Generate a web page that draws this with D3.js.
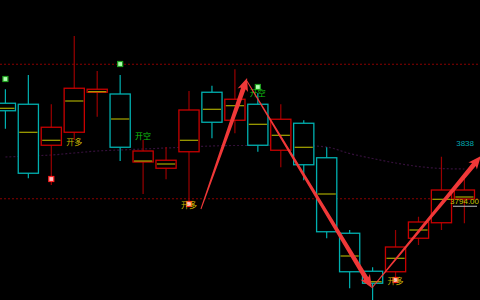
<!DOCTYPE html>
<html>
<head>
  <meta charset="utf-8">
  <title>K线</title>
  <script src="https://d3js.org/d3.v7.min.js"></script>
  <style>
    html, body { margin: 0; padding: 0; background: #000; }
    svg { display: block; }
  </style>
</head>
<body>
<script>
  // ohlc + yellow mid line, one entry per bar
  const opens  = [3870.4, 3869.6, 3836.8, 3847.2, 3879.2, 3877.8, 3823.4, 3818.4, 3831.6, 3879.2, 3856.8,
                  3869.6, 3832.8, 3854.4, 3826.8, 3766.4, 3736.0, 3735.6, 3762.4, 3774.8, 3793.8];
  const highs  = [3881.6, 3893.0, 3869.6, 3924.2, 3896.2, 3893.0, 3841.0, 3835.4, 3880.2, 3884.4, 3897.6,
                  3878.6, 3869.6, 3856.8, 3835.2, 3769.0, 3739.2, 3769.0, 3779.6, 3827.6, 3814.4];
  const lows   = [3850.0, 3810.4, 3805.0, 3841.0, 3859.6, 3824.2, 3797.8, 3809.6, 3790.6, 3842.4, 3846.4,
                  3831.6, 3819.2, 3808.8, 3762.4, 3722.4, 3709.0, 3729.0, 3757.0, 3769.0, 3774.4];
  const closes = [3864.4, 3814.4, 3851.2, 3882.4, 3881.6, 3835.2, 3832.2, 3824.8, 3865.0, 3855.2, 3873.6,
                  3836.8, 3857.6, 3821.2, 3767.6, 3735.6, 3726.4, 3755.4, 3775.4, 3801.0, 3801.0];
  const mids   = [3866.4, 3847.2, 3840.8, 3872.2, 3879.6, 3857.8, 3824.2, 3821.8, 3840.8, 3865.6, 3868.4,
                  3853.6, 3844.8, 3835.2, 3797.8, 3748.2, 3727.6, 3746.4, 3769.0, 3793.6, 3795.4];
  const ma     = [3827.4, 3828.2, 3829.0, 3830.6, 3832.2, 3833.0, 3833.8, 3834.6, 3835.4, 3836.2, 3836.6,
                  3836.6, 3837.0, 3836.6, 3835.4, 3830.2, 3826.2, 3822.6, 3819.8, 3818.2, 3817.8];

  // signals
  const shortDots  = [[0, 3889.8], [5, 3901.8], [11, 3883.4]];
  const longDots   = [[2, 3809.8], [8, 3789.8], [17, 3729.0]];
  const shortTexts = [[6, 3843.4], [11, 3877.8]];
  const longTexts  = [[3, 3838.6], [8, 3788.2], [17, 3727.4]];

  // hand drawn arrows, [bar, price] from -> to
  const arrows = [
    [[8.52, 3785.8], [10.53, 3890.6]],
    [[10.53, 3888.0], [15.97, 3722.6]],
    [[15.97, 3722.6], [20.72, 3828.2]]
  ];

  const refLevels = [3901.6, 3794];
  const lastLabel = "3794.00";
  const topLabel = 3838;

  const width = 480, height = 300;
  const n = opens.length;
  const bars = d3.range(n).map(i => ({
    i, open: opens[i], high: highs[i], low: lows[i], close: closes[i], mid: mids[i]
  }));

  const x = d3.scalePoint().domain(d3.range(n)).range([5.4, 464.4]);
  const xl = d3.scaleLinear().domain([0, n - 1]).range([5.4, 464.4]);
  const y = d3.scaleLinear().domain([3713, 3953]).range([height, 0]);
  const bw = x.step() * 0.88;

  const up = "#c80000", upWick = "#9a0000", down = "#00b0b0";

  const svg = d3.select("body").append("svg")
    .attr("width", width)
    .attr("height", height)
    .style("background", "#000");

  svg.selectAll(".ref")
    .data(refLevels)
    .join("line")
      .attr("class", "ref")
      .attr("x1", 0).attr("x2", width)
      .attr("y1", d => y(d)).attr("y2", d => y(d))
      .attr("stroke", "#8a0000")
      .attr("stroke-width", 1)
      .attr("stroke-dasharray", "2,2");

  svg.append("path")
    .datum(ma)
    .attr("fill", "none")
    .attr("stroke", "#34103a")
    .attr("stroke-width", 1.2)
    .attr("stroke-dasharray", "2,2")
    .attr("d", d3.line().x((d, i) => x(i)).y(d => y(d)).curve(d3.curveMonotoneX));

  const g = svg.append("g")
    .selectAll("g")
    .data(bars)
    .join("g")
      .attr("transform", d => `translate(${x(d.i)},0)`);

  g.append("line")
    .attr("y1", d => y(d.high))
    .attr("y2", d => y(d.low))
    .attr("stroke", d => d.close >= d.open ? upWick : down)
    .attr("stroke-width", 1.2);

  g.append("rect")
    .attr("x", -bw / 2)
    .attr("width", bw)
    .attr("y", d => y(Math.max(d.open, d.close)))
    .attr("height", d => Math.max(1, Math.abs(y(d.open) - y(d.close))))
    .attr("fill", "#000")
    .attr("stroke", d => d.close >= d.open ? up : down)
    .attr("stroke-width", 1.3);

  g.append("line")
    .attr("x1", -bw / 2 + 1)
    .attr("x2", bw / 2 - 1)
    .attr("y1", d => y(d.mid))
    .attr("y2", d => y(d.mid))
    .attr("stroke", "#c8c800")
    .attr("stroke-width", 1);

  // markers
  svg.selectAll(".sdot")
    .data(shortDots)
    .join("rect")
      .attr("x", d => x(d[0]) - 2.5)
      .attr("y", d => y(d[1]) - 2.5)
      .attr("width", 5).attr("height", 5)
      .attr("fill", "#b0ffb0")
      .attr("stroke", "#20a020")
      .attr("stroke-width", 1.2);

  svg.selectAll(".ldot")
    .data(longDots)
    .join("rect")
      .attr("x", d => x(d[0]) - 2.5)
      .attr("y", d => y(d[1]) - 2.5)
      .attr("width", 5).attr("height", 5)
      .attr("fill", "#ffc0c0")
      .attr("stroke", "#ff2020")
      .attr("stroke-width", 1.2);

  svg.selectAll(".stext")
    .data(shortTexts)
    .join("text")
      .attr("x", d => x(d[0]))
      .attr("y", d => y(d[1]))
      .attr("text-anchor", "middle")
      .attr("dominant-baseline", "middle")
      .attr("fill", "#10c010")
      .style("font", "8px 'Noto Sans CJK SC'")
      .text("开空");

  svg.selectAll(".ltext")
    .data(longTexts)
    .join("text")
      .attr("x", d => x(d[0]))
      .attr("y", d => y(d[1]))
      .attr("text-anchor", "middle")
      .attr("dominant-baseline", "middle")
      .attr("fill", "#c8b400")
      .style("font", "8px 'Noto Sans CJK SC'")
      .text("开多");

  // tapered arrows
  function arrowPath(a) {
    const x1 = xl(a[0][0]), y1 = y(a[0][1]), x2 = xl(a[1][0]), y2 = y(a[1][1]);
    const len = Math.hypot(x2 - x1, y2 - y1);
    const ux = (x2 - x1) / len, uy = (y2 - y1) / len;
    const px = -uy, py = ux;
    const headL = 11, headW = 5.5, w0 = 0.5, w1 = 2.4;
    const bx = x2 - ux * headL, by = y2 - uy * headL;
    const pts = [
      [x1 + px * w0, y1 + py * w0],
      [bx + px * w1, by + py * w1],
      [bx + px * headW - ux * 2, by + py * headW - uy * 2],
      [x2, y2],
      [bx - px * headW - ux * 2, by - py * headW - uy * 2],
      [bx - px * w1, by - py * w1],
      [x1 - px * w0, y1 - py * w0]
    ];
    return "M" + pts.map(p => p.join(",")).join("L") + "Z";
  }

  svg.selectAll(".arrow")
    .data(arrows)
    .join("path")
      .attr("class", "arrow")
      .attr("d", arrowPath)
      .attr("fill", "#f03838");

  svg.append("text")
    .attr("x", 474)
    .attr("y", y(topLabel))
    .attr("text-anchor", "end")
    .attr("dominant-baseline", "middle")
    .attr("fill", "#00a8b0")
    .style("font", "8px 'Liberation Sans'")
    .text(topLabel);

  svg.append("text")
    .attr("x", 479)
    .attr("y", y(refLevels[1]) + 3.5)
    .attr("text-anchor", "end")
    .attr("dominant-baseline", "middle")
    .attr("fill", "#c8c800")
    .style("font", "8px 'Liberation Sans'")
    .text(lastLabel);

  svg.append("line")
    .attr("x1", 453).attr("x2", 477)
    .attr("y1", y(refLevels[1]) + 7.5).attr("y2", y(refLevels[1]) + 7.5)
    .attr("stroke", "#c0c0c0")
    .attr("stroke-width", 1);
</script>
</body>
</html>
